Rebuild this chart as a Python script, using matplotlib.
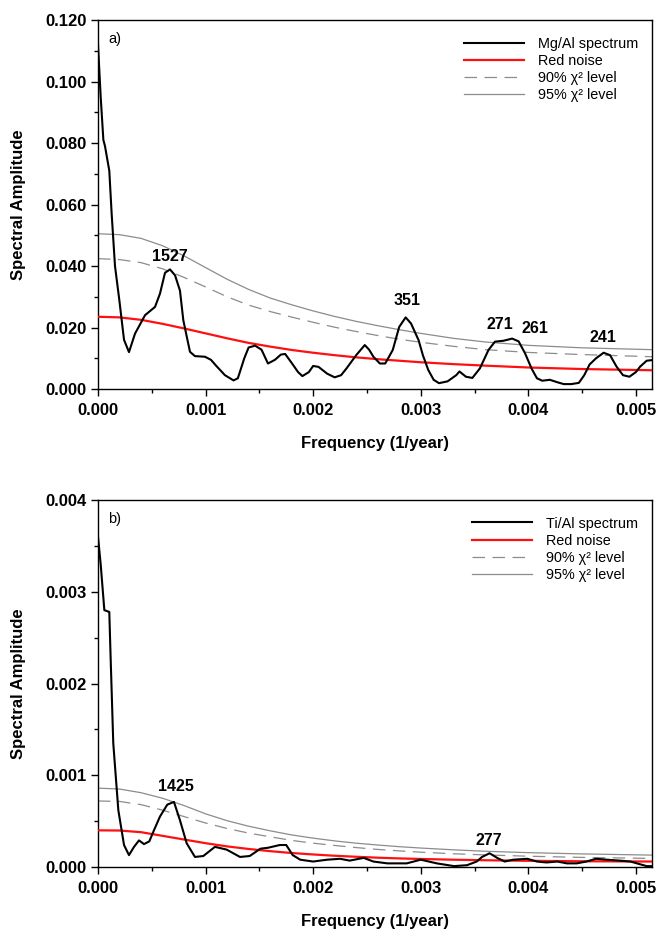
import numpy as np
import matplotlib
matplotlib.use("Agg")
import matplotlib.pyplot as plt
from matplotlib.ticker import MultipleLocator, FormatStrFormatter

plt.rcParams['font.family'] = ['Liberation Sans', 'DejaVu Sans']

# ---- panel a) Mg/Al (frequencies in 1e-3 1/year) ----
mg_freq = np.array([0.000, 0.025, 0.050, 0.065, 0.105, 0.127, 0.158, 0.198, 0.242, 0.288,
                    0.344, 0.437, 0.530, 0.576, 0.623, 0.669, 0.716, 0.762, 0.793, 0.855,
                    0.901, 0.994, 1.05, 1.10, 1.18, 1.26, 1.30, 1.36, 1.40, 1.46,
                    1.52, 1.58, 1.645, 1.70, 1.74, 1.80, 1.86, 1.90, 1.96, 2.00,
                    2.05, 2.13, 2.20, 2.26, 2.31, 2.40, 2.48, 2.52, 2.56, 2.62,
                    2.67, 2.74, 2.80, 2.86, 2.91, 2.98, 3.02, 3.07, 3.12, 3.17,
                    3.25, 3.33, 3.36, 3.42, 3.48, 3.55, 3.63, 3.69, 3.77, 3.85,
                    3.91, 3.97, 4.03, 4.08, 4.13, 4.20, 4.27, 4.33, 4.40, 4.47,
                    4.52, 4.57, 4.63, 4.70, 4.76, 4.82, 4.88, 4.94, 5.00, 5.04,
                    5.10, 5.15]) * 1e-3
mg_spec = np.array([0.112, 0.095, 0.081, 0.079, 0.071, 0.057, 0.040, 0.029, 0.016, 0.012,
                    0.018, 0.024, 0.0267, 0.031, 0.0378, 0.0389, 0.037, 0.032, 0.0224, 0.0121,
                    0.0107, 0.0105, 0.0095, 0.0075, 0.0045, 0.0028, 0.0035, 0.0100, 0.0135, 0.0141,
                    0.0128, 0.0083, 0.0095, 0.0112, 0.0114, 0.0085, 0.0055, 0.0042, 0.0055, 0.0075,
                    0.0072, 0.0050, 0.0038, 0.0045, 0.0067, 0.0110, 0.0143, 0.0128, 0.0105, 0.0083,
                    0.0083, 0.0127, 0.0202, 0.0233, 0.0213, 0.0159, 0.0110, 0.0062, 0.0030, 0.0019,
                    0.0025, 0.0045, 0.0057, 0.0040, 0.0036, 0.0067, 0.0127, 0.0154, 0.0157, 0.0164,
                    0.0155, 0.0116, 0.0067, 0.0035, 0.0027, 0.0030, 0.0022, 0.0016, 0.0016, 0.0020,
                    0.0045, 0.0080, 0.0100, 0.0118, 0.0110, 0.0073, 0.0045, 0.0040, 0.0055, 0.0073,
                    0.0092, 0.0094])

# noise / confidence levels, read every 0.0002 (then wider)
lvl_freq = np.array([0.0, 0.2, 0.4, 0.6, 0.8, 1.0, 1.2, 1.4, 1.6, 1.8, 2.0,
                     2.2, 2.4, 2.6, 2.8, 3.0, 3.3, 3.6, 4.0, 4.5, 5.15]) * 1e-3
mg_red = [0.0235, 0.0233, 0.0225, 0.0212, 0.0197, 0.0181, 0.0165, 0.0150, 0.0138, 0.0127, 0.0118,
          0.0110, 0.0103, 0.0097, 0.0092, 0.0087, 0.0081, 0.0076, 0.0070, 0.0065, 0.0061]
mg_90 = [0.0424, 0.0421, 0.0411, 0.0391, 0.0363, 0.0332, 0.0300, 0.0273, 0.0252, 0.0234, 0.0217,
         0.0201, 0.0187, 0.0174, 0.0162, 0.0152, 0.0139, 0.0128, 0.0119, 0.0112, 0.0105]
mg_95 = [0.0505, 0.0502, 0.0490, 0.0466, 0.0433, 0.0395, 0.0357, 0.0324, 0.0296, 0.0274, 0.0254,
         0.0236, 0.0220, 0.0206, 0.0193, 0.0181, 0.0165, 0.0153, 0.0142, 0.0134, 0.0128]

mg_peaks = ['1527', '351', '271', '261', '241']
mg_peak_f = [0.00067, 0.00287, 0.00374, 0.00406, 0.00469]
mg_peak_v = [0.0405, 0.0262, 0.0187, 0.0172, 0.0143]

# ---- panel b) Ti/Al ----
ti_freq = np.array([0.000, 0.025, 0.059, 0.105, 0.118, 0.142, 0.158, 0.189, 0.242, 0.288,
                    0.335, 0.381, 0.428, 0.477, 0.520, 0.576, 0.644, 0.706, 0.762, 0.824,
                    0.901, 0.979, 1.087, 1.196, 1.32, 1.41, 1.51, 1.58, 1.69, 1.75,
                    1.81, 1.88, 2.00, 2.13, 2.25, 2.34, 2.47, 2.56, 2.69, 2.87,
                    3.00, 3.15, 3.31, 3.43, 3.52, 3.57, 3.64, 3.71, 3.78, 3.86,
                    3.99, 4.08, 4.17, 4.27, 4.36, 4.45, 4.54, 4.63, 4.73, 4.85,
                    4.95, 5.04, 5.10, 5.15]) * 1e-3
ti_spec = np.array([0.00360, 0.00330, 0.00280, 0.00278, 0.00226, 0.00135, 0.00110, 0.00062, 0.00024, 0.00013,
                    0.00022, 0.00029, 0.00025, 0.00028, 0.00040, 0.00055, 0.00068, 0.00071, 0.00051, 0.00026,
                    0.00011, 0.00012, 0.00022, 0.00019, 0.00011, 0.00012, 0.00020, 0.00021, 0.00024, 0.00024,
                    0.00013, 0.00008, 0.00006, 0.00008, 0.00009, 0.00007, 0.00010, 0.00006, 0.00004, 0.00004,
                    0.00008, 0.00004, 0.00001, 0.00002, 0.00006, 0.00011, 0.00015, 0.00010, 0.00006, 0.00008,
                    0.00009, 0.00006, 0.00005, 0.00006, 0.00004, 0.00004, 0.00006, 0.00009, 0.00008, 0.00007,
                    0.00006, 0.00003, 0.00001, 0.00001])

ti_red = [0.000400, 0.000398, 0.000380, 0.000340, 0.000300, 0.000260, 0.000225, 0.000197, 0.000173,
          0.000153, 0.000137, 0.000123, 0.000112, 0.000102, 0.000094, 0.000088, 0.000080, 0.000074,
          0.000068, 0.000063, 0.000060]
ti_90 = [0.000720, 0.000715, 0.000680, 0.000620, 0.000550, 0.000480, 0.000420, 0.000370, 0.000330,
         0.000290, 0.000260, 0.000235, 0.000212, 0.000192, 0.000176, 0.000162, 0.000145, 0.000132,
         0.000118, 0.000105, 0.000094]
ti_95 = [0.000860, 0.000850, 0.000810, 0.000750, 0.000670, 0.000580, 0.000505, 0.000445, 0.000395,
         0.000350, 0.000315, 0.000285, 0.000260, 0.000240, 0.000222, 0.000207, 0.000188, 0.000172,
         0.000157, 0.000143, 0.000130]

ti_peaks = ['1425', '277']
ti_peak_f = [0.000725, 0.00363]
ti_peak_v = [0.00080, 0.00021]

xmax = 0.00515

fig = plt.figure(figsize=(6.59, 9.32), dpi=100)
ax1 = fig.add_axes([0.1487, 0.5826, 0.8407, 0.3959])
ax2 = fig.add_axes([0.1487, 0.0697, 0.8407, 0.3938])


def dibujar_panel(ax, freq, spec, red, p90, p95, nombre, letra, etiquetas, ef, ev, ymax, ymaj, ymin):
    ax.plot(freq, spec, color='black', lw=1.5, label=nombre, zorder=5)
    ax.plot(lvl_freq, red, color='#ff1010', lw=1.6, label='Red noise', zorder=4)
    ax.plot(lvl_freq, p90, color='#8c8c8c', lw=0.9, dashes=(10, 6), label='90% χ² level')
    ax.plot(lvl_freq, p95, color='#8c8c8c', lw=0.9, label='95% χ² level')

    for txt, f, v in zip(etiquetas, ef, ev):
        ax.text(f, v, txt, ha='center', va='bottom', fontsize=11.5, fontweight='bold')

    ax.text(0.018, 0.968, letra, transform=ax.transAxes, ha='left', va='top', fontsize=10.5)

    ax.set_xlim(0, xmax)
    ax.set_ylim(0, ymax)
    ax.xaxis.set_major_locator(MultipleLocator(0.001))
    ax.xaxis.set_minor_locator(MultipleLocator(0.0005))
    ax.yaxis.set_major_locator(MultipleLocator(ymaj))
    ax.yaxis.set_minor_locator(MultipleLocator(ymin))
    ax.xaxis.set_major_formatter(FormatStrFormatter('%.3f'))
    ax.yaxis.set_major_formatter(FormatStrFormatter('%.3f'))
    ax.tick_params(which='major', direction='out', length=5, width=1, labelsize=12)
    ax.tick_params(axis='x', which='major', pad=5)
    ax.tick_params(axis='y', which='major', pad=3)
    ax.tick_params(which='minor', direction='out', length=3, width=1)
    for lab in ax.get_xticklabels() + ax.get_yticklabels():
        lab.set_fontweight('bold')
    for s in ax.spines.values():
        s.set_linewidth(1.0)

    ax.set_xlabel('Frequency (1/year)', fontsize=12, fontweight='bold', labelpad=13)
    ax.set_ylabel('Spectral Amplitude', fontsize=12, fontweight='bold')

    ax.legend(loc='upper right', bbox_to_anchor=(0.975, 0.955), frameon=False, fontsize=10.4,
              handlelength=4.15, handletextpad=0.97, labelspacing=0.22, borderpad=0, borderaxespad=0)


dibujar_panel(ax1, mg_freq, mg_spec, mg_red, mg_90, mg_95, 'Mg/Al spectrum', 'a)',
              mg_peaks, mg_peak_f, mg_peak_v, 0.12, 0.02, 0.01)
dibujar_panel(ax2, ti_freq, ti_spec, ti_red, ti_90, ti_95, 'Ti/Al spectrum', 'b)',
              ti_peaks, ti_peak_f, ti_peak_v, 0.004, 0.001, 0.0005)

ax1.yaxis.set_label_coords(-0.13, 0.5)
ax2.yaxis.set_label_coords(-0.13, 0.5)

fig.savefig('out.png', dpi=100)
